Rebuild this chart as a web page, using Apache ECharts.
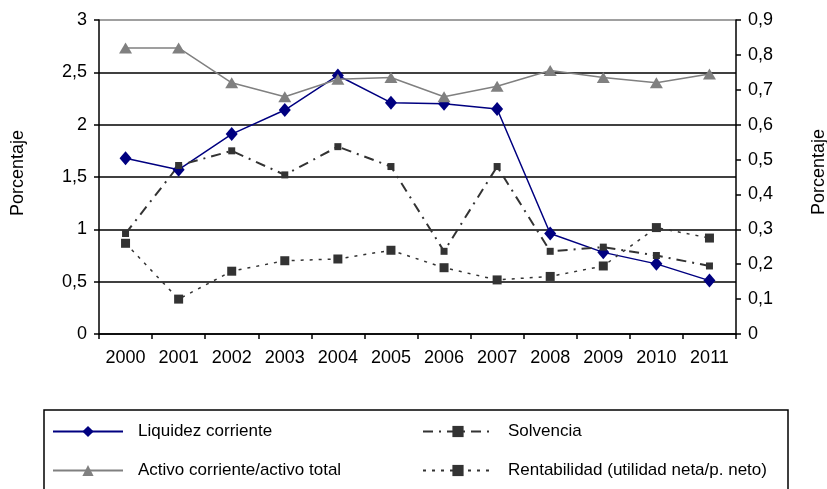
<!DOCTYPE html>
<html>
<head>
<meta charset="utf-8">
<script src="https://cdn.jsdelivr.net/npm/echarts@6/dist/echarts.min.js"></script>
<style>
  html, body { margin: 0; padding: 0; background: #fff; }
  #chart { width: 827px; height: 489px; }
</style>
</head>
<body>
<div id="chart"></div>
<script>
// Years on the category axis
var years = ['2000', '2001', '2002', '2003', '2004', '2005', '2006', '2007', '2008', '2009', '2010', '2011'];

// Left axis series
var liquidez = [1.68, 1.57, 1.91, 2.14, 2.47, 2.21, 2.20, 2.15, 0.96, 0.78, 0.67, 0.51];
var solvencia = [0.96, 1.61, 1.75, 1.52, 1.79, 1.60, 0.79, 1.60, 0.79, 0.83, 0.75, 0.65];

// Right axis series
var activo = [0.82, 0.82, 0.72, 0.68, 0.73, 0.735, 0.68, 0.71, 0.755, 0.735, 0.72, 0.745];
var rentabilidad = [0.26, 0.10, 0.18, 0.21, 0.215, 0.24, 0.19, 0.155, 0.165, 0.195, 0.305, 0.275];

// Axis ranges
var leftMax = 3, leftStep = 0.5;
var rightMax = 0.9, rightStep = 0.1;

var FONT = 'Liberation Sans, Arial, sans-serif';

function comma(v, digits) {
  return (digits == null ? String(v) : v.toFixed(digits)).replace('.', ',');
}

var chart = echarts.init(document.getElementById('chart'), null, { renderer: 'canvas' });

var legendText = { fontSize: 17, fontFamily: FONT, color: '#000', padding: [0, 0, 0, 10] };

chart.setOption({
  animation: false,
  backgroundColor: '#ffffff',
  textStyle: { fontFamily: FONT, color: '#000' },
  grid: { left: 99, right: 91, top: 20, bottom: 155, containLabel: false },
  xAxis: {
    type: 'category',
    data: years,
    boundaryGap: true,
    axisLine: { show: true, lineStyle: { color: '#000', width: 1.5 } },
    axisTick: { show: true, length: 5, alignWithLabel: false, lineStyle: { color: '#000', width: 1.5 } },
    axisLabel: { color: '#000', fontSize: 18, fontFamily: FONT, margin: 15 },
    splitLine: { show: false }
  },
  yAxis: [
    {
      type: 'value',
      min: 0, max: leftMax, interval: leftStep,
      position: 'left',
      axisLine: { show: true, lineStyle: { color: '#000', width: 1.5 } },
      axisTick: { show: true, length: 5, lineStyle: { color: '#000', width: 1.5 } },
      axisLabel: { color: '#000', fontSize: 18, fontFamily: FONT, margin: 12,
        formatter: function (v) { return comma(v); } },
      splitLine: { show: true, lineStyle: { color: ['#000', '#000', '#000', '#000', '#000', '#000', '#808080'], width: 1.5 } }
    },
    {
      type: 'value',
      min: 0, max: rightMax, interval: rightStep,
      position: 'right',
      axisLine: { show: true, lineStyle: { color: '#000', width: 1.5 } },
      axisTick: { show: true, length: 5, lineStyle: { color: '#000', width: 1.5 } },
      axisLabel: { color: '#000', fontSize: 18, fontFamily: FONT, margin: 12,
        formatter: function (v) { return v === 0 ? '0' : comma(v, 1); } },
      splitLine: { show: false }
    }
  ],
  legend: [
    {
      orient: 'vertical',
      left: 52, top: 423, padding: 0,
      itemWidth: 70, itemHeight: 14, itemGap: 22,
      textStyle: legendText,
      data: ['Liquidez corriente', 'Activo corriente/activo total']
    },
    {
      orient: 'vertical',
      left: 422, top: 423, padding: 0,
      itemWidth: 70, itemHeight: 14, itemGap: 22,
      textStyle: legendText,
      data: ['Solvencia', 'Rentabilidad (utilidad neta/p. neto)']
    }
  ],
  graphic: [
    {
      type: 'rect',
      shape: { x: 44, y: 410, width: 744, height: 100 },
      style: { fill: 'none', stroke: '#000', lineWidth: 1.5 },
      silent: true
    },
    {
      type: 'text',
      x: 18, y: 173, rotation: Math.PI / 2,
      style: { text: 'Porcentaje', font: '18px ' + FONT, fill: '#000', align: 'center', verticalAlign: 'middle' }
    },
    {
      type: 'text',
      x: 819, y: 172, rotation: Math.PI / 2,
      style: { text: 'Porcentaje', font: '18px ' + FONT, fill: '#000', align: 'center', verticalAlign: 'middle' }
    }
  ],
  series: [
    {
      name: 'Liquidez corriente',
      type: 'line',
      yAxisIndex: 0,
      data: liquidez,
      symbol: 'diamond', symbolSize: [12, 14],
      showAllSymbol: true,
      itemStyle: { color: '#000080' },
      lineStyle: { color: '#000080', width: 1.5 }
    },
    {
      name: 'Activo corriente/activo total',
      type: 'line',
      yAxisIndex: 1,
      data: activo,
      symbol: 'triangle', symbolSize: [13, 11],
      showAllSymbol: true,
      itemStyle: { color: '#808080' },
      lineStyle: { color: '#808080', width: 1.5 }
    },
    {
      name: 'Solvencia',
      type: 'line',
      yAxisIndex: 0,
      data: solvencia,
      symbol: 'rect', symbolSize: 7,
      showAllSymbol: true,
      itemStyle: { color: '#333333' },
      lineStyle: { color: '#333333', width: 2, type: [10, 6, 2, 6] }
    },
    {
      name: 'Rentabilidad (utilidad neta/p. neto)',
      type: 'line',
      yAxisIndex: 1,
      data: rentabilidad,
      symbol: 'rect', symbolSize: 9,
      showAllSymbol: true,
      itemStyle: { color: '#333333' },
      lineStyle: { color: '#333333', width: 1.5, type: [3, 6] }
    }
  ]
});
</script>
</body>
</html>
